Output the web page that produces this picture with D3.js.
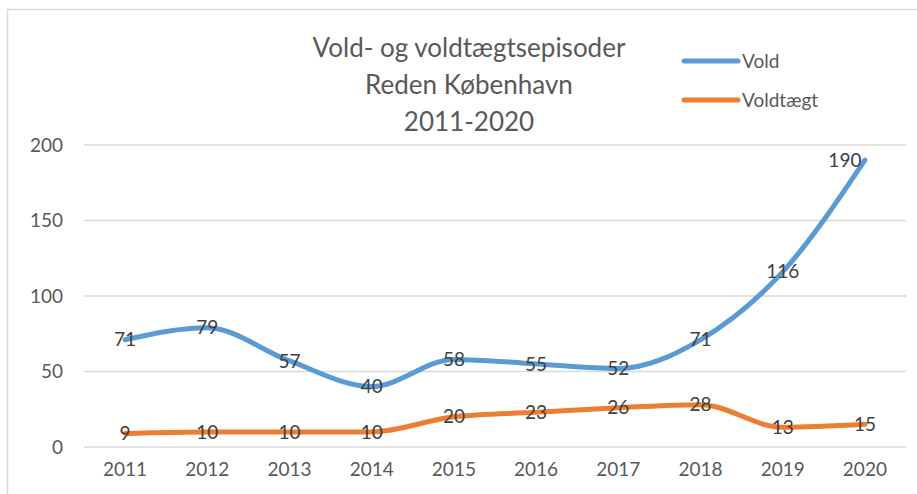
<!DOCTYPE html>
<html>
<head>
<meta charset="utf-8">
<script src="https://cdn.jsdelivr.net/npm/d3@7"></script>
<style>
  body { margin: 0; background: #fff; }
  text { font-family: Lato, "Open Sans", sans-serif; fill: #595959; }
</style>
</head>
<body>
<div id="chart"></div>
<script>
// chart data
const years = ["2011", "2012", "2013", "2014", "2015", "2016", "2017", "2018", "2019", "2020"];
const vold = [71, 79, 57, 40, 58, 55, 52, 71, 116, 190];
const voldtaegt = [9, 10, 10, 10, 20, 23, 26, 28, 13, 15];
const yTicks = [0, 50, 100, 150, 200];
const titleLines = ["Vold- og voldtægtsepisoder", "Reden København", "2011-2020"];

const series = [
  { name: "Vold", values: vold, color: "#5b9bd5" },
  { name: "Voldtægt", values: voldtaegt, color: "#ed7d31" }
];

const width = 917, height = 494;
const margin = { top: 145, right: 11, bottom: 47, left: 84 };

const svg = d3.select("#chart").append("svg")
  .attr("width", width)
  .attr("height", height);

// chart border
svg.append("rect")
  .attr("x", 7.5).attr("y", 9.5)
  .attr("width", width + 10).attr("height", height + 10)
  .attr("fill", "none")
  .attr("stroke", "#d9d9d9")
  .attr("stroke-width", 1.5);

const x = d3.scaleBand()
  .domain(years)
  .range([margin.left, width - margin.right]);

const y = d3.scaleLinear()
  .domain([0, 200])
  .range([height - margin.bottom, margin.top]);

const cx = i => x(years[i]) + x.bandwidth() / 2;

// gridlines
svg.append("g")
  .selectAll("line")
  .data(yTicks)
  .join("line")
    .attr("x1", margin.left)
    .attr("x2", width - margin.right)
    .attr("y1", d => y(d))
    .attr("y2", d => y(d))
    .attr("stroke", "#d9d9d9")
    .attr("stroke-width", 1.5);

// y axis labels
svg.append("g")
  .selectAll("text")
  .data(yTicks)
  .join("text")
    .attr("x", 63)
    .attr("y", d => y(d))
    .attr("dy", "0.35em")
    .attr("text-anchor", "end")
    .attr("font-size", 19)
    .text(d => d);

// x axis labels
svg.append("g")
  .selectAll("text")
  .data(years)
  .join("text")
    .attr("x", d => x(d) + x.bandwidth() / 2)
    .attr("y", 469)
    .attr("dy", "0.35em")
    .attr("text-anchor", "middle")
    .attr("font-size", 19)
    .text(d => d);

const line = d3.line()
  .x((d, i) => cx(i))
  .y(d => y(d))
  .curve(d3.curveMonotoneX);

series.forEach(s => {
  svg.append("path")
    .datum(s.values)
    .attr("fill", "none")
    .attr("stroke", s.color)
    .attr("stroke-width", 5)
    .attr("stroke-linecap", "round")
    .attr("stroke-linejoin", "round")
    .attr("d", line);

  svg.append("g")
    .selectAll("text")
    .data(s.values)
    .join("text")
      .attr("x", (d, i) => cx(i))
      .attr("y", d => y(d))
      .attr("dx", (d, i) => (i === s.values.length - 1 && d > 100) ? -20 : 0)
      .attr("dy", "0.35em")
      .attr("text-anchor", "middle")
      .attr("font-size", 19)
      .style("fill", "#404040")
      .text(d => d);
});

// title
svg.append("g")
  .selectAll("text")
  .data(titleLines)
  .join("text")
    .attr("x", 469)
    .attr("y", (d, i) => 48 + i * 37)
    .attr("dy", "0.35em")
    .attr("text-anchor", "middle")
    .attr("font-size", 26)
    .text(d => d);

// legend
const legend = svg.append("g")
  .selectAll("g")
  .data(series)
  .join("g")
    .attr("transform", (d, i) => `translate(684, ${61 + i * 39})`);

legend.append("line")
  .attr("x1", 0).attr("x2", 54)
  .attr("stroke", d => d.color)
  .attr("stroke-width", 5)
  .attr("stroke-linecap", "round");

legend.append("text")
  .attr("x", 58)
  .attr("dy", "0.35em")
  .attr("font-size", 19)
  .text(d => d.name);
</script>
</body>
</html>
